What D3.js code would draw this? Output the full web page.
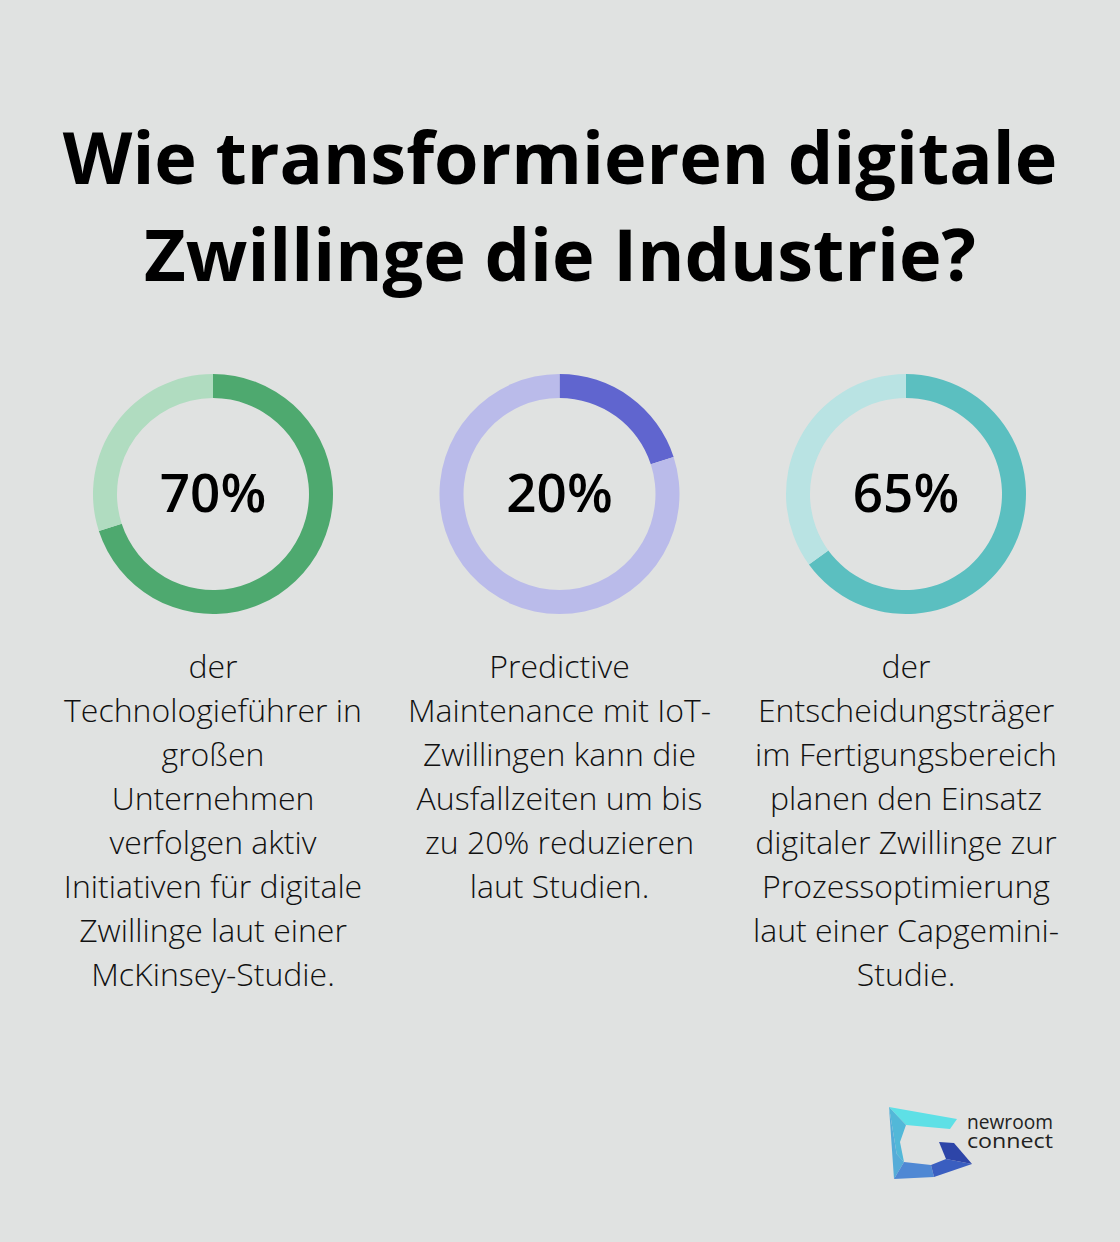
<!DOCTYPE html>
<html><head><meta charset="utf-8">
<script src="https://cdn.jsdelivr.net/npm/d3@7"></script>
<style>
html,body{margin:0;padding:0;background:#e0e2e1;}
svg{display:block;}
</style></head>
<body>
<script>
const titleLines = ["Wie transformieren digitale", "Zwillinge die Industrie?"];
const categories = ["Technologieführer", "Predictive Maintenance", "Entscheidungsträger"];
const values = [70, 20, 65];
const valueLabels = ["70%", "20%", "65%"];
const captions = [
  ["der", "Technologieführer in", "großen", "Unternehmen", "verfolgen aktiv", "Initiativen für digitale", "Zwillinge laut einer", "McKinsey-Studie."],
  ["Predictive", "Maintenance mit IoT-", "Zwillingen kann die", "Ausfallzeiten um bis", "zu 20% reduzieren", "laut Studien."],
  ["der", "Entscheidungsträger", "im Fertigungsbereich", "planen den Einsatz", "digitaler Zwillinge zur", "Prozessoptimierung", "laut einer Capgemini-", "Studie."]
];
const darkColors = ["#4ea96f", "#6065cf", "#5bbfc0"];
const lightColors = ["#b0dcc0", "#babbea", "#b9e3e3"];
const logoWords = ["newroom", "connect"];

const W = 1120, H = 1242;
const svg = d3.select("body").append("svg").attr("width", W).attr("height", H);
svg.append("rect").attr("width", W).attr("height", H).attr("fill", "#e0e2e1");

svg.selectAll("text.title").data(titleLines).join("text")
  .attr("class", "title")
  .attr("x", W / 2).attr("y", (d, i) => 184 + i * 97)
  .attr("text-anchor", "middle")
  .attr("font-family", "'Open Sans', sans-serif").attr("font-weight", 700)
  .attr("font-size", 72).attr("fill", "#000")
  .text(d => d);

const x = d3.scalePoint().domain(categories).range([213, 906]);
const cy = 494;
const arc = d3.arc().innerRadius(96).outerRadius(120);
const pie = d3.pie().sort(null).value(d => d);

categories.forEach((c, i) => {
  const g = svg.append("g").attr("transform", `translate(${x(c)},${cy})`);
  const arcs = pie([values[i], 100 - values[i]]);
  g.selectAll("path").data(arcs).join("path")
    .attr("d", arc)
    .attr("fill", (d, j) => j === 0 ? darkColors[i] : lightColors[i]);
  g.append("text").attr("y", 18).attr("text-anchor", "middle")
    .attr("font-family", "'Open Sans', sans-serif").attr("font-weight", 600)
    .attr("font-size", 53).attr("fill", "#000").text(valueLabels[i]);
  svg.append("g").selectAll("text").data(captions[i]).join("text")
    .attr("x", x(c)).attr("y", (d, j) => 678 + j * 44)
    .attr("text-anchor", "middle")
    .attr("font-family", "'Open Sans', sans-serif").attr("font-weight", 300)
    .attr("font-size", 32).attr("fill", "#111")
    .text(d => d);
});

// logo
const logo = svg.append("g").attr("transform", "translate(884,1102)");
const polys = [
  {p: [[5,5],[73,17],[66,27],[22,23]], c: "#5ee0e6"},
  {p: [[5,5],[22,23],[16,40],[20,60],[12.7,52]], c: "#52b8d8"},
  {p: [[5,5],[12.7,52],[20,60],[10,77]], c: "#55acd8"},
  {p: [[20,60],[47,63],[50,75],[10,77]], c: "#4f88d4"},
  {p: [[47,63],[62,57],[88,62],[50,75]], c: "#3a5ec0"},
  {p: [[55,40],[70,41],[88,62],[62,57]], c: "#2d45a8"}
];
logo.selectAll("polygon").data(polys).join("polygon")
  .attr("points", d => d.p.map(q => q.join(",")).join(" "))
  .attr("fill", d => d.c);
logo.selectAll("text").data(logoWords).join("text")
  .attr("x", 83).attr("y", (d, i) => 27 + i * 19)
  .attr("textLength", 86).attr("lengthAdjust", "spacingAndGlyphs")
  .attr("font-family", "'Open Sans', sans-serif").attr("font-weight", 400)
  .attr("font-size", 20).attr("fill", "#222").text(d => d);
</script>
</body></html>
